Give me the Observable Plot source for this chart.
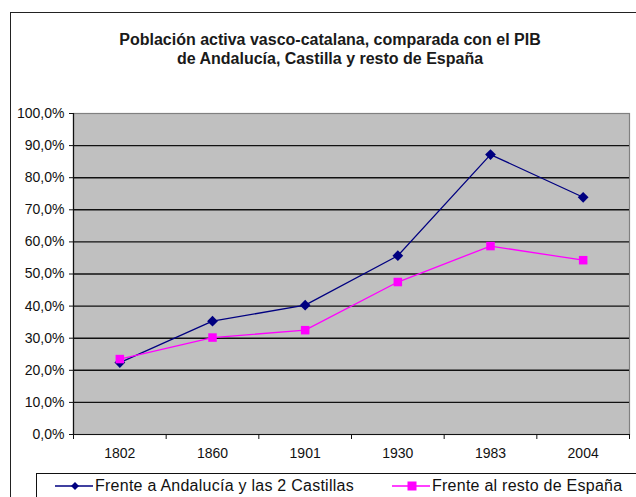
<!DOCTYPE html>
<html>
<head>
<meta charset="utf-8">
<script src="https://cdn.jsdelivr.net/npm/d3@7"></script>
<script src="https://cdn.jsdelivr.net/npm/@observablehq/plot@0.6"></script>
<style>
  html, body { margin: 0; padding: 0; background: #fff; }
  #wrap { position: relative; width: 636px; height: 497px; overflow: hidden; background: #fff;
          font-family: "Liberation Sans", Arial, sans-serif; color: #111; }
  #frame { position: absolute; left: 10px; top: 12px; width: 700px; height: 600px; border: 1px solid #222; box-sizing: border-box; }
  #title { position: absolute; left: 0; top: 30px; width: 660px; text-align: center; font-size: 16px; font-weight: bold; line-height: 19px; color: #1a1a1a; }
  #chart { position: absolute; left: 0; top: 0; }
  #legend { position: absolute; left: 36px; top: 473px; width: 700px; height: 40px; border: 1px solid #111; box-sizing: border-box; background: #fff; font-size: 16px; letter-spacing: 0.25px; }
  .item { position: absolute; top: 2px; display: flex; align-items: center; white-space: nowrap; }
  .item svg { display: block; margin-right: 2px; }
</style>
</head>
<body>
<div id="wrap">
  <div id="frame"></div>
  <div id="title">Población activa vasco-catalana, comparada con el PIB<br>de Andalucía, Castilla y resto de España</div>
  <div id="chart"></div>
  <div id="legend"></div>
</div>
<script>
// ---- data ----
const years = ["1802", "1860", "1901", "1930", "1983", "2004"];
const andalucia = [0.224, 0.353, 0.403, 0.557, 0.872, 0.739];
const resto = [0.235, 0.302, 0.325, 0.475, 0.587, 0.543];
const yTicks = [0, 0.1, 0.2, 0.3, 0.4, 0.5, 0.6, 0.7, 0.8, 0.9, 1.0];
const seriesNames = ["Frente a Andalucía y las 2 Castillas", "Frente al resto de España"];
const seriesColors = ["#000080", "#FF00FF"];

const rowsA = years.map((y, i) => ({i, v: andalucia[i]}));
const rowsR = years.map((y, i) => ({i, v: resto[i]}));
const idx = years.map((y, i) => i);
const bounds = [-0.5, ...idx.map(i => i + 0.5)];
const fmt = d => (d * 100).toFixed(1).replace(".", ",") + "%";

// square-ish diamond (rotated square), like the spreadsheet marker
const rhombus = {
  draw(context, size) {
    const r = Math.sqrt(size / 2);
    context.moveTo(0, -r);
    context.lineTo(r, 0);
    context.lineTo(0, r);
    context.lineTo(-r, 0);
    context.closePath();
  }
};

const plot = Plot.plot({
  width: 636,
  height: 470,
  marginLeft: 73,
  marginRight: 7,
  marginTop: 113,
  marginBottom: 36,
  style: {fontFamily: "'Liberation Sans', Arial, sans-serif", fontSize: "14px", background: "transparent", color: "#111"},
  x: {type: "linear", domain: [-0.5, years.length - 0.5]},
  y: {domain: [0, 1]},
  marks: [
    Plot.frame({fill: "#C0C0C0", stroke: "#808080", strokeWidth: 1.2}),
    Plot.ruleY(yTicks.filter(d => d > 0 && d < 1), {stroke: "#111", strokeWidth: 1.4}),
    Plot.ruleY([0], {stroke: "#111", strokeWidth: 1.2}),
    Plot.ruleX([-0.5], {stroke: "#111", strokeWidth: 1.2}),
    Plot.axisY({ticks: yTicks, tickFormat: fmt, tickSize: 4, tickPadding: 5, fontSize: 14, stroke: "#111", label: null}),
    Plot.axisX({ticks: idx, tickFormat: i => years[i], tickSize: 0, tickPadding: 14, fontSize: 14, label: null}),
    Plot.axisX({ticks: bounds, tickFormat: () => "", tickSize: 5, stroke: "#111", label: null}),
    Plot.line(rowsA, {x: "i", y: "v", stroke: seriesColors[0], strokeWidth: 1.3}),
    Plot.line(rowsR, {x: "i", y: "v", stroke: seriesColors[1], strokeWidth: 1.3}),
    Plot.dot(rowsA, {x: "i", y: "v", symbol: rhombus, r: 4.3, fill: seriesColors[0], stroke: null}),
    Plot.dot(rowsR, {x: "i", y: "v", symbol: "square", r: 4.8, fill: seriesColors[1], stroke: null})
  ]
});
document.getElementById("chart").appendChild(plot);

// ---- legend ----
const legend = document.getElementById("legend");
const lefts = [18, 355];
seriesNames.forEach((name, k) => {
  const item = document.createElement("div");
  item.className = "item";
  item.style.left = lefts[k] + "px";
  const sym = k === 0
    ? `<path d="M20 6 L24 10 L20 14 L16 10 Z" fill="${seriesColors[0]}"/>`
    : `<rect x="15.5" y="5.5" width="9" height="9" fill="${seriesColors[1]}"/>`;
  item.innerHTML = `<svg width="38" height="20"><line x1="0" y1="10" x2="38" y2="10" stroke="${seriesColors[k]}" stroke-width="1.3"/>${sym}</svg><span>${name}</span>`;
  legend.appendChild(item);
});
</script>
</body>
</html>
